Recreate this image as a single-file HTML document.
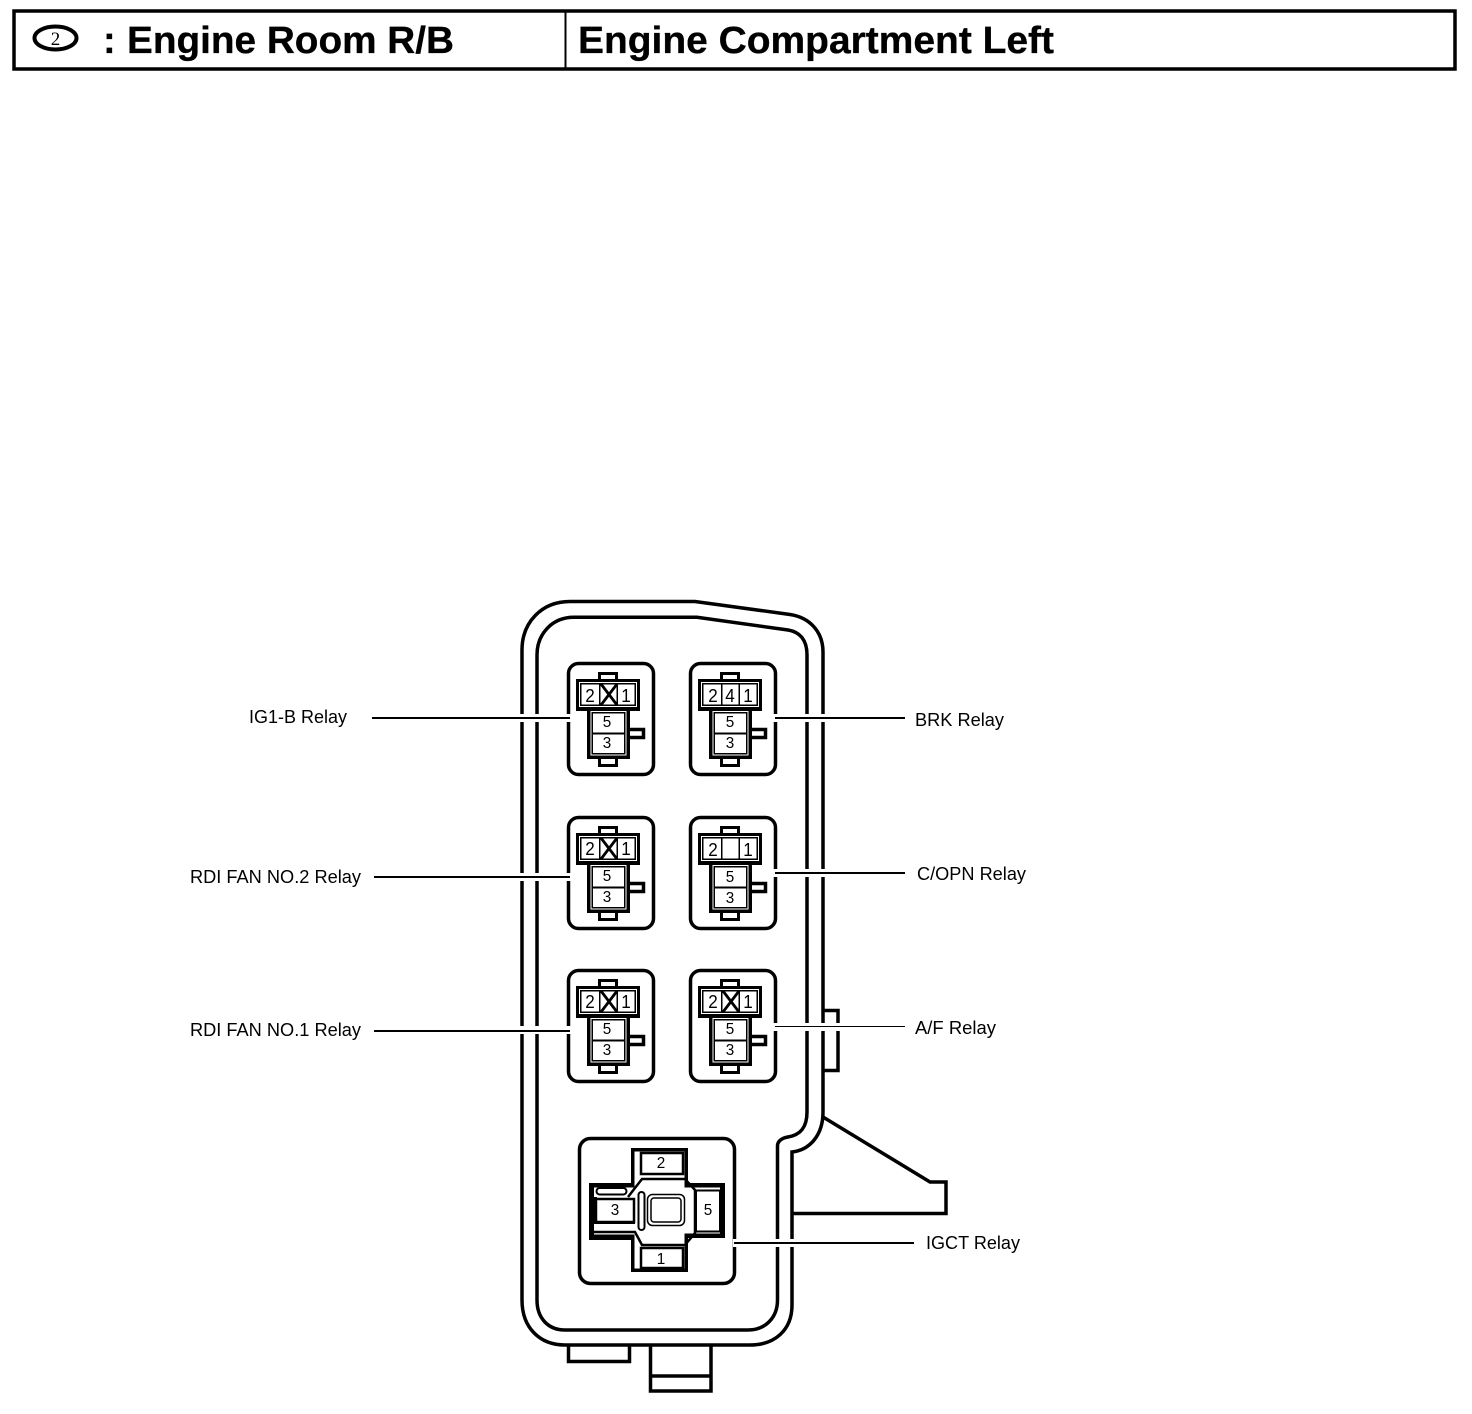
<!DOCTYPE html>
<html><head><meta charset="utf-8"><style>
html,body{margin:0;padding:0;background:#fff}
svg{display:block}
text{font-family:"Liberation Sans",sans-serif;fill:#000}
.n{font-size:16px;text-anchor:middle}
.m{font-size:18px;text-anchor:middle}
.l{font-size:18px}
.t{font-size:38px;font-weight:bold;stroke:#000;stroke-width:.3}
.o{fill:none;stroke:#000;stroke-width:3.5}
</style></head><body>
<svg width="1472" height="1414" viewBox="0 0 1472 1414" xmlns="http://www.w3.org/2000/svg">
<defs>
<g id="r">
<rect x="568.5" y="663.5" width="85" height="111" rx="10" fill="#fff" stroke="#000" stroke-width="3.5"/>
<rect x="599.5" y="673.5" width="17" height="8" fill="#fff" stroke="#000" stroke-width="3"/>
<rect x="599.5" y="757.5" width="17" height="8" fill="#fff" stroke="#000" stroke-width="3"/>
<rect x="627" y="729.5" width="16.500" height="8" fill="#fff" stroke="#000" stroke-width="3.5"/>
<rect x="576" y="679" width="64" height="32" fill="#000"/>
<rect x="579" y="682" width="58" height="25" fill="#fff"/>
<rect x="580" y="683" width="56" height="23" fill="#000"/>
<rect x="581.500" y="684.500" width="17.500" height="20" fill="#fff"/>
<rect x="600.500" y="684.500" width="16" height="20" fill="#fff"/>
<rect x="618" y="684.500" width="16.500" height="20" fill="#fff"/>
<rect x="587" y="710" width="43" height="49" fill="#000"/>
<rect x="590.500" y="711" width="36" height="44.500" fill="#fff"/>
<rect x="591.500" y="712" width="34" height="42.500" fill="#000"/>
<rect x="593" y="713.500" width="31" height="19" fill="#fff"/>
<rect x="593" y="734.500" width="31" height="18.500" fill="#fff"/>
</g>
<path id="x" d="M601 684L617 705M617 684L601 705" fill="none" stroke="#000" stroke-width="2.800"/>
</defs>

<!-- title -->
<rect x="14" y="11" width="1441" height="58" fill="none" stroke="#000" stroke-width="3.500"/>
<rect x="564.500" y="10" width="2" height="58" fill="#000"/>
<ellipse cx="55.500" cy="38" rx="21" ry="11.500" fill="none" stroke="#000" stroke-width="4"/>
<text x="55.500" y="45" text-anchor="middle" style="font-family:'Liberation Serif',serif;font-size:19px">2</text>
<text class="t" x="103" y="53">:</text>
<text class="t" x="127" y="53" textLength="327" lengthAdjust="spacingAndGlyphs">Engine Room R/B</text>
<text class="t" x="578" y="53" textLength="476" lengthAdjust="spacingAndGlyphs">Engine Compartment Left</text>

<!-- housing -->
<path class="o" d="M823 1010.500H838V1070.500H823"/>
<path class="o" d="M823 1117L930 1182H946V1213.500H792"/>
<path class="o" d="M568.500 1345V1361.500H629.500V1345"/>
<path class="o" d="M650.500 1345V1391H711V1345M650.500 1376H711"/>
<path class="o" d="M522 650C522 622 542 601.500 570 601.500H695L790 614.500C810 617.500 823 632 823 652V1112C823 1135 810 1150 792 1152V1305C792 1330 775 1345 750 1345H565C540 1345 522 1328 522 1300Z"/>
<path class="o" d="M537 655C537 634 552 617.300 574 617.300H697L788 630C800 632 807 640 807 655V1112C807 1128 800 1135 788 1137C782 1138 777.500 1141 777.500 1146V1300C777.500 1318 765 1330 748 1330H565C548 1330 537 1318 537 1300Z" stroke-width="3"/>

<!-- relays -->
<use href="#r"/>
<use href="#r" x="122"/>
<use href="#r" y="154"/>
<use href="#r" x="122" y="154"/>
<use href="#r" y="307"/>
<use href="#r" x="122" y="307"/>
<use href="#x"/>
<use href="#x" y="154"/>
<use href="#x" y="307"/>
<use href="#x" x="122" y="307"/>
<rect x="722.500" y="838.500" width="16" height="20" fill="#fff"/>

<text class="m" x="590" y="702" textLength="9.500" lengthAdjust="spacingAndGlyphs">2</text><text class="m" x="626" y="702" textLength="9.500" lengthAdjust="spacingAndGlyphs">1</text><text class="n" x="607" y="727" textLength="8.500" lengthAdjust="spacingAndGlyphs">5</text><text class="n" x="607" y="748" textLength="8.500" lengthAdjust="spacingAndGlyphs">3</text>
<text class="m" x="713" y="702" textLength="9.500" lengthAdjust="spacingAndGlyphs">2</text><text class="m" x="730" y="702" textLength="9.500" lengthAdjust="spacingAndGlyphs">4</text><text class="m" x="748" y="702" textLength="9.500" lengthAdjust="spacingAndGlyphs">1</text><text class="n" x="730" y="727" textLength="8.500" lengthAdjust="spacingAndGlyphs">5</text><text class="n" x="730" y="748" textLength="8.500" lengthAdjust="spacingAndGlyphs">3</text>
<text class="m" x="590" y="855" textLength="9.500" lengthAdjust="spacingAndGlyphs">2</text><text class="m" x="626" y="855" textLength="9.500" lengthAdjust="spacingAndGlyphs">1</text><text class="n" x="607" y="881" textLength="8.500" lengthAdjust="spacingAndGlyphs">5</text><text class="n" x="607" y="902" textLength="8.500" lengthAdjust="spacingAndGlyphs">3</text>
<text class="m" x="713" y="856" textLength="9.500" lengthAdjust="spacingAndGlyphs">2</text><text class="m" x="748" y="856" textLength="9.500" lengthAdjust="spacingAndGlyphs">1</text><text class="n" x="730" y="882" textLength="8.500" lengthAdjust="spacingAndGlyphs">5</text><text class="n" x="730" y="903" textLength="8.500" lengthAdjust="spacingAndGlyphs">3</text>
<text class="m" x="590" y="1008" textLength="9.500" lengthAdjust="spacingAndGlyphs">2</text><text class="m" x="626" y="1008" textLength="9.500" lengthAdjust="spacingAndGlyphs">1</text><text class="n" x="607" y="1034" textLength="8.500" lengthAdjust="spacingAndGlyphs">5</text><text class="n" x="607" y="1055" textLength="8.500" lengthAdjust="spacingAndGlyphs">3</text>
<text class="m" x="713" y="1008" textLength="9.500" lengthAdjust="spacingAndGlyphs">2</text><text class="m" x="748" y="1008" textLength="9.500" lengthAdjust="spacingAndGlyphs">1</text><text class="n" x="730" y="1034" textLength="8.500" lengthAdjust="spacingAndGlyphs">5</text><text class="n" x="730" y="1055" textLength="8.500" lengthAdjust="spacingAndGlyphs">3</text>

<!-- IGCT relay -->
<rect x="579.500" y="1138.500" width="155" height="145" rx="11" fill="#fff" stroke="#000" stroke-width="3.5"/>
<path d="M631 1148H688V1183H725V1238H688V1272H631V1240H589V1183H631Z" fill="#000"/>
<path d="M634.500 1151.500H684.500V1187.500H720V1233.500H684.500V1268.500H634.500V1234.500H594V1187.500H634.500Z" fill="#fff"/>
<rect x="593" y="1197" width="4" height="27" fill="#000"/>
<rect x="596" y="1199" width="38" height="23" fill="#fff" stroke="#000" stroke-width="2.500"/>
<rect x="595" y="1221" width="40" height="3" fill="#000"/>
<rect x="641" y="1153" width="42" height="21" fill="#fff" stroke="#000" stroke-width="2.500"/>
<rect x="641" y="1248" width="42" height="20" fill="#fff" stroke="#000" stroke-width="2.500"/>
<rect x="696" y="1190.500" width="24" height="41" fill="#fff" stroke="#000" stroke-width="2"/>
<path d="M628 1197L642 1179H685L695 1190V1233L685 1245H642L635 1232H594" fill="none" stroke="#000" stroke-width="2.500"/>
<rect x="596.500" y="1188" width="30" height="6.500" rx="3.200" fill="#fff" stroke="#000" stroke-width="2"/>
<rect x="638.500" y="1192" width="6" height="38" rx="3" fill="#fff" stroke="#000" stroke-width="2"/>
<rect x="647.500" y="1194.500" width="37" height="31" rx="5" fill="#fff" stroke="#000" stroke-width="1.500"/>
<rect x="651" y="1198" width="30" height="24" rx="3" fill="#fff" stroke="#000" stroke-width="1.500"/>
<text class="n" x="661" y="1168" textLength="8.500" lengthAdjust="spacingAndGlyphs">2</text>
<text class="n" x="661" y="1264" textLength="8.500" lengthAdjust="spacingAndGlyphs">1</text>
<text class="n" x="615" y="1215" textLength="8.500" lengthAdjust="spacingAndGlyphs">3</text>
<text class="n" x="708" y="1215" textLength="8.500" lengthAdjust="spacingAndGlyphs">5</text>

<!-- leaders -->
<g fill="#fff">
<rect x="515" y="714" width="56" height="8"/>
<rect x="515" y="873" width="56" height="8"/>
<rect x="515" y="1026" width="56" height="8"/>
<rect x="772" y="714" width="56" height="8"/>
<rect x="772" y="869" width="56" height="8"/>
<rect x="772" y="1023" width="71" height="8"/>
<rect x="733" y="1239" width="64" height="8"/>
</g>
<g fill="#000">
<rect x="372" y="717" width="198" height="2"/>
<rect x="374" y="876" width="196" height="2"/>
<rect x="374" y="1030" width="196" height="2"/>
<rect x="775" y="717" width="130" height="2"/>
<rect x="775" y="872" width="130" height="2"/>
<rect x="775" y="1026" width="130" height="1"/>
<rect x="734" y="1242" width="180" height="2"/>
</g>
<text class="l" x="249" y="723" textLength="98" lengthAdjust="spacingAndGlyphs">IG1-B Relay</text>
<text class="l" x="190" y="883" textLength="171" lengthAdjust="spacingAndGlyphs">RDI FAN NO.2 Relay</text>
<text class="l" x="190" y="1036" textLength="171" lengthAdjust="spacingAndGlyphs">RDI FAN NO.1 Relay</text>
<text class="l" x="915" y="726" textLength="89" lengthAdjust="spacingAndGlyphs">BRK Relay</text>
<text class="l" x="917" y="880" textLength="109" lengthAdjust="spacingAndGlyphs">C/OPN Relay</text>
<text class="l" x="915" y="1034" textLength="81" lengthAdjust="spacingAndGlyphs">A/F Relay</text>
<text class="l" x="926" y="1249" textLength="94" lengthAdjust="spacingAndGlyphs">IGCT Relay</text>
</svg>
</body></html>
